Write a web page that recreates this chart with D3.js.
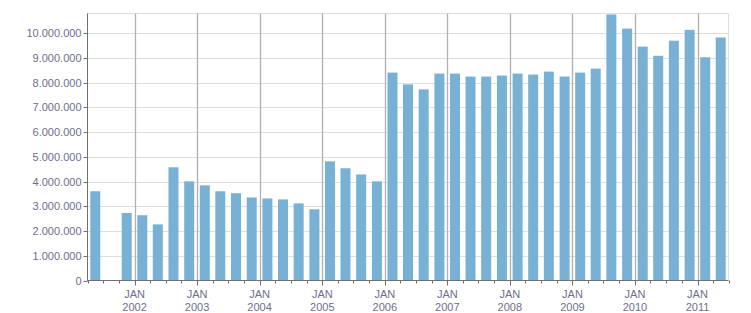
<!DOCTYPE html>
<html>
<head>
<meta charset="utf-8">
<script src="https://cdn.jsdelivr.net/npm/d3@7"></script>
<style>
html,body{margin:0;padding:0;background:#fff;}
svg{display:block;}
text{font-family:"Liberation Sans",Arial,sans-serif;font-size:11px;fill:#6e6e8e;}
</style>
</head>
<body>
<svg id="chart" width="751" height="313"></svg>
<script>
// Quarter start dates (YYYY-MM) and values
const quarters = [
  "2001-04","2001-07","2001-10",
  "2002-01","2002-04","2002-07","2002-10",
  "2003-01","2003-04","2003-07","2003-10",
  "2004-01","2004-04","2004-07","2004-10",
  "2005-01","2005-04","2005-07","2005-10",
  "2006-01","2006-04","2006-07","2006-10",
  "2007-01","2007-04","2007-07","2007-10",
  "2008-01","2008-04","2008-07","2008-10",
  "2009-01","2009-04","2009-07","2009-10",
  "2010-01","2010-04","2010-07","2010-10",
  "2011-01","2011-04"
];
const values = [
  3610000, null, 2730000,
  2640000, 2270000, 4580000, 4010000,
  3850000, 3610000, 3530000, 3360000,
  3320000, 3280000, 3120000, 2880000,
  4820000, 4540000, 4290000, 4010000,
  8410000, 7930000, 7730000, 8370000,
  8370000, 8250000, 8250000, 8290000,
  8370000, 8330000, 8450000, 8250000,
  8410000, 8570000, 10760000, 10190000,
  9460000, 9090000, 9700000, 10140000,
  9030000, 9830000
];
const yTicks = [0,1000000,2000000,3000000,4000000,5000000,6000000,7000000,8000000,9000000,10000000];
const yearLabels = ["2002","2003","2004","2005","2006","2007","2008","2009","2010","2011"];
const monthLabel = "JAN";

const L = 87.5, R = 728.5, T = 13.5, B = 280.5;
const svg = d3.select("#chart");
const parse = s => { const [y,m] = s.split("-").map(Number); return new Date(Date.UTC(y, m-1, 1)); };
const x = d3.scaleUtc().domain([new Date(Date.UTC(2001,3,1)), new Date(Date.UTC(2011,6,1))]).range([L, R]);
const y = d3.scaleLinear().domain([0, 10800000]).range([B, T]);

const fmt = v => d3.format(",")(v).replace(/,/g, ".");

// horizontal grid
svg.append("g").selectAll("line").data(yTicks.filter(v => v > 0)).join("line")
  .attr("x1", L).attr("x2", R)
  .attr("y1", d => Math.round(y(d)) + 0.5).attr("y2", d => Math.round(y(d)) + 0.5)
  .attr("stroke", "#dedede").attr("stroke-width", 1);
// top border & right border
svg.append("line").attr("x1", L).attr("x2", R).attr("y1", T).attr("y2", T).attr("stroke", "#dedede");
svg.append("line").attr("x1", R).attr("x2", R).attr("y1", T).attr("y2", B).attr("stroke", "#dedede");

// vertical year grid
const yearDates = yearLabels.map(s => new Date(Date.UTC(+s, 0, 1)));
svg.append("g").selectAll("line").data(yearDates).join("line")
  .attr("x1", d => Math.round(x(d)) + 0.5).attr("x2", d => Math.round(x(d)) + 0.5)
  .attr("y1", T).attr("y2", B)
  .attr("stroke", "#b0b0b0").attr("stroke-width", 1.3);

// bars
const data = quarters.map((q, i) => ({ start: parse(q), value: values[i] })).filter(d => d.value != null);
const barW = 10;
svg.append("g").selectAll("rect").data(data).join("rect")
  .attr("x", d => {
    const s = d.start, e = d3.utcMonth.offset(s, 3);
    return (x(s) + x(e)) / 2 - barW / 2;
  })
  .attr("width", barW)
  .attr("y", d => y(d.value))
  .attr("height", d => B - y(d.value))
  .attr("fill", "#78b1d4");

// y axis
svg.append("line").attr("x1", L).attr("x2", L).attr("y1", T).attr("y2", B + 0.5).attr("stroke", "#707070");
const yg = svg.append("g");
yg.selectAll("line").data(yTicks).join("line")
  .attr("x1", L - 4).attr("x2", L)
  .attr("y1", d => Math.round(y(d)) + 0.5).attr("y2", d => Math.round(y(d)) + 0.5)
  .attr("stroke", "#707070");
yg.selectAll("text").data(yTicks).join("text")
  .attr("x", L - 6).attr("y", d => y(d) + 4)
  .attr("text-anchor", "end")
  .text(d => fmt(d));

// x axis
svg.append("line").attr("x1", L).attr("x2", R).attr("y1", B).attr("y2", B).attr("stroke", "#707070");
const qTicks = d3.utcMonth.every(3).range(new Date(Date.UTC(2001,3,1)), new Date(Date.UTC(2011,6,2)));
svg.append("g").selectAll("line").data(qTicks).join("line")
  .attr("x1", d => Math.round(x(d)) + 0.5).attr("x2", d => Math.round(x(d)) + 0.5)
  .attr("y1", B).attr("y2", d => d.getUTCMonth() === 0 ? B + 5 : B + 3)
  .attr("stroke", "#707070");
const xl = svg.append("g");
xl.selectAll("text.m").data(yearDates).join("text").attr("class", "m")
  .attr("x", d => x(d)).attr("y", 298).attr("text-anchor", "middle").text(monthLabel);
xl.selectAll("text.yr").data(yearDates).join("text").attr("class", "yr")
  .attr("x", d => x(d)).attr("y", 311).attr("text-anchor", "middle").text((d, i) => yearLabels[i]);
</script>
</body>
</html>
